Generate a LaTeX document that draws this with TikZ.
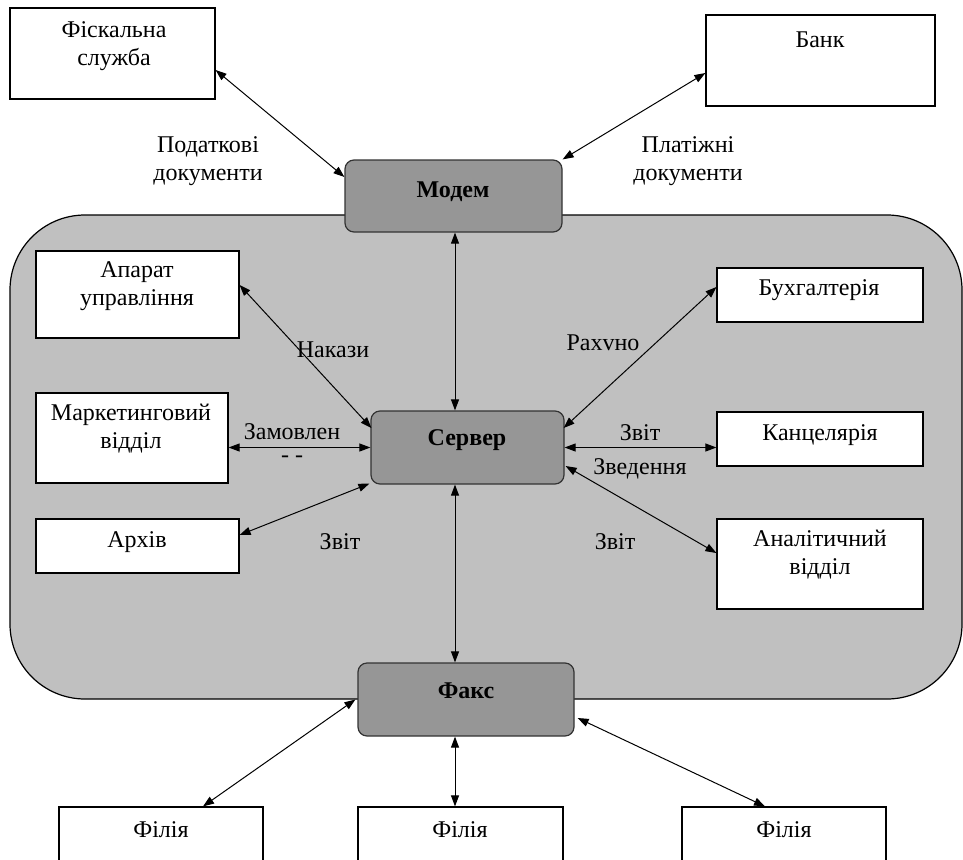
\documentclass[tikz,border=0pt]{standalone}
\usepackage{fontspec}
\setmainfont{Liberation Serif}
\usetikzlibrary{arrows.meta,calc}
\definecolor{bggray}{HTML}{C0C0C0}
\definecolor{dkgray}{HTML}{969696}
\begin{document}
\begin{tikzpicture}[x=1pt,y=-1pt,
  every node/.style={font=\fontsize{24}{28}\selectfont, inner sep=0pt},
  wbox/.style={draw=black, fill=white, line width=1.2pt, minimum width=#1},
  gbox/.style={draw=black!80, fill=dkgray, line width=1.2pt, rounded corners=9pt, minimum width=#1},
  txt/.style={align=center},
  link/.style={{Triangle[length=11pt,width=8pt]}-{Triangle[length=11pt,width=8pt]}, line width=1pt}]
\useasboundingbox (0,0) rectangle (963,859);
\fill[white] (0,0) rectangle (963,859);
% office area
\draw[fill=bggray, line width=1.2pt, rounded corners=75pt] (10,215) rectangle (962,699);
\coordinate (vx) at (455,0);
% outer boxes
\node[wbox=205pt, minimum height=91pt] (fisk) at (112.5,53.5) {};
\node[wbox=229pt, minimum height=91pt] (bank) at (820.5,60.5) {};
\node[gbox=217pt, minimum height=72pt] (modem) at (453.5,196) {};
% inner boxes
\node[wbox=203pt, minimum height=87pt] (apar) at (137.5,294.5) {};
\node[wbox=192pt, minimum height=90pt] (mark) at (132,438) {};
\node[wbox=203pt, minimum height=54pt] (arch) at (137.5,546) {};
\node[wbox=206pt, minimum height=54pt] (buh) at (820,295) {};
\node[wbox=206pt, minimum height=54pt] (kanc) at (820,439) {};
\node[wbox=206pt, minimum height=90pt] (anal) at (820,564) {};
\node[gbox=193pt, minimum height=73pt] (server) at (467.5,447.5) {};
\node[gbox=216pt, minimum height=73pt] (fax) at (466,699.5) {};
% branches
\node[wbox=204pt, minimum height=63pt] (fil1) at (161,838.5) {};
\node[wbox=205pt, minimum height=63pt] (fil2) at (460.5,838.5) {};
\node[wbox=204pt, minimum height=63pt] (fil3) at (784,838.5) {};
% box texts
\node[txt] (tfisk) at (114,46) {Фіскальна\\служба};
\node[txt] (tbank) at (820,40) {Банк};
\node[txt] (tmodem) at (453,192) {\bfseries Модем};
\node[txt] (tapar) at (137,286.5) {Апарат\\управління};
\node[txt] (tmark) at (131,429) {Маркетинговий\\відділ};
\node[txt] (tarch) at (137,542) {Архів};
\node[txt] (tbuh) at (819,290) {Бухгалтерія};
\node[txt] (tkanc) at (820,435) {Канцелярія};
\node[txt] (tanal) at (820,555) {Аналітичний\\відділ};
\node[txt] (tserver) at (467,440) {\bfseries Сервер};
\node[txt] (tfax) at (466,691) {\bfseries Факс};
\node[txt] (tfil1) at (161,830) {Філія};
\node[txt] (tfil2) at (460,830) {Філія};
\node[txt] (tfil3) at (784,830) {Філія};
% connectors
\draw[link] ($(fisk.east)+(0,16.5)$) -- ($(modem.west)+(0,-19)$);
\draw[link] ($(bank.west)+(0,12.5)$) -- (modem.north east);
\draw[link] (modem.south -| vx) -- (server.north -| vx);
\draw[link] (server.south -| vx) -- (fax.north -| vx);
\draw[link] (fax.south -| vx) -- (fil2.north -| vx);
\draw[link] ($(fax.west)+(-2,0)$) -- ($(fil1.north)+(42,0)$);
\draw[link] ($(fax.east)+(3,18.5)$) -- ($(fil3.north)+(-19,0)$);
\draw[link] ($(apar.east)+(0,-9.5)$) -- ($(server.west)+(1,-19.5)$);
\draw[link] (server.west -| mark.east) -- (server.west);
\draw[link] ($(arch.east)+(0,-11)$) -- ($(server.south west)+(-1,-1)$);
\draw[link] ($(buh.west)+(0,-8)$) -- ($(server.east)+(-1,-19.5)$);
\draw[link] (server.east) -- (server.east -| kanc.west);
\draw[link] ($(server.east)+(1,18.5)$) -- ($(anal.west)+(0,-11)$);
% connector labels
\node[txt] (lpod) at (208,161) {Податкові\\документи};
\node[txt] (lplat) at (688,161.5) {Платіжні\\документи};
\node[txt] (lnak) at (333,350) {Накази};
\node (lzam) at (292,432) {Замовлен};
\node (lzam2) at (292,459) {- -};
\node[txt] (lzvit1) at (340,542) {Звіт};
\node[txt] (lrah) at (603,343) {Рахvно};
\node[txt] (lzvit2) at (640,433) {Звіт};
\node[txt] (lzved) at (640,469) {Зведення};
\node[txt] (lzvit3) at (615,542) {Звіт};
\end{tikzpicture}
\end{document}
